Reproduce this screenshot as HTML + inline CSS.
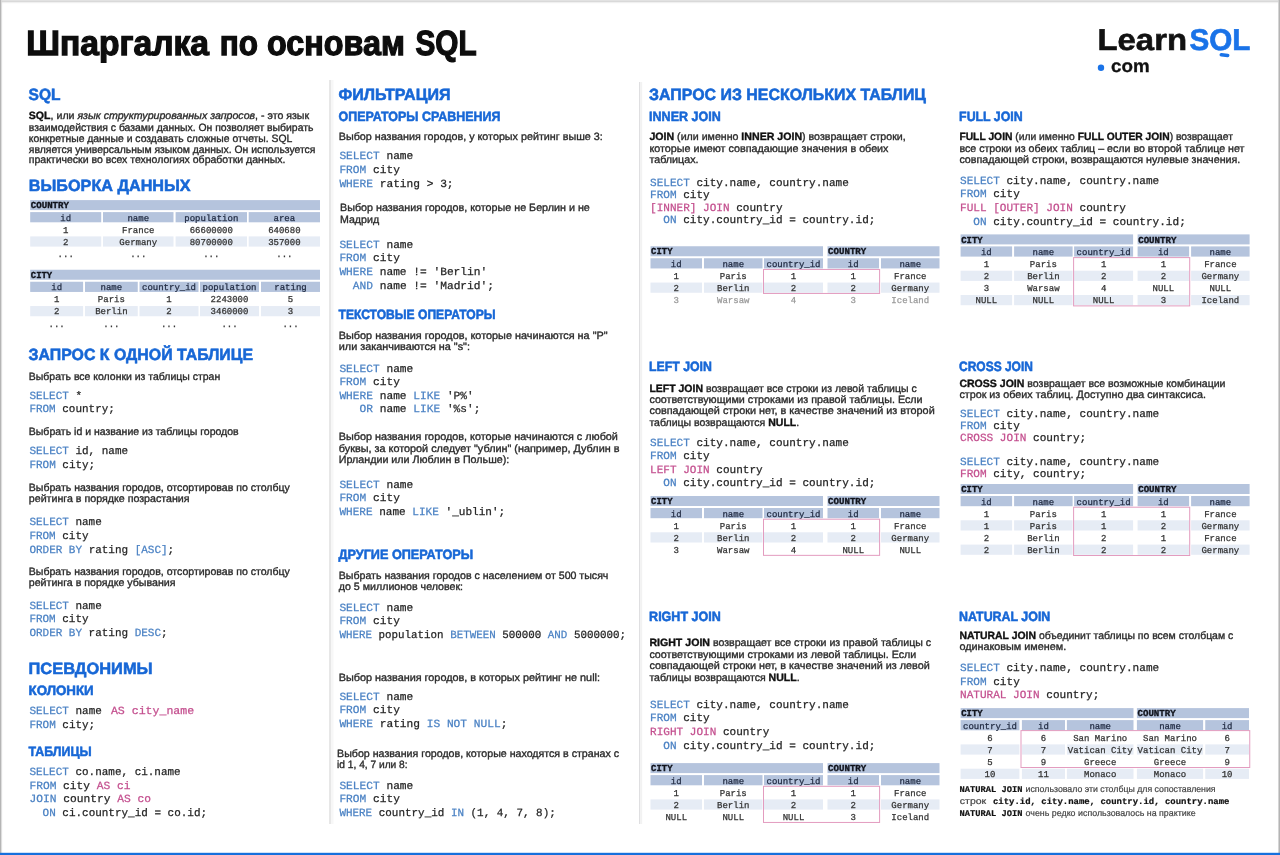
<!DOCTYPE html>
<html><head><meta charset="utf-8"><title>SQL cheat sheet</title>
<style>html,body{margin:0;padding:0;background:#fff;}svg{display:block;filter:blur(0.35px);}</style></head>
<body><svg width="1280" height="855" viewBox="0 0 1280 855" text-rendering="geometricPrecision">
<rect x="0" y="0" width="1280" height="855" fill="#ffffff"/>
<rect x="0" y="0" width="1280" height="1" fill="#e2e2e2"/>
<rect x="0" y="1" width="1280" height="1.3" fill="#d9d9d9"/>
<rect x="0" y="2.3" width="1280" height="0.9" fill="#eeeeee"/>
<rect x="0" y="0" width="1.2" height="855" fill="#b5b5b5"/>
<rect x="1.2" y="0" width="0.9" height="855" fill="#dadada"/>
<rect x="1278" y="0" width="0.8" height="855" fill="#d6d6d6"/>
<rect x="1278.8" y="0" width="1.2" height="855" fill="#b4b4b4"/>
<rect x="0" y="852.8" width="1280" height="2.2" fill="#1670dd"/>
<rect x="329" y="80" width="2" height="744" fill="#e7e7e7"/>
<rect x="331" y="80" width="2.5" height="744" fill="#f7f7f7"/>
<rect x="639" y="82" width="1.2" height="742" fill="#dfdfe1"/>
<rect x="640.2" y="82" width="2" height="742" fill="#f2f2f2"/>
<text x="26.30" y="55" font-family="'Liberation Sans', sans-serif" font-weight="bold" font-size="35" fill="#0d0d0d" stroke="#0d0d0d" stroke-width="1.3" textLength="182.7" lengthAdjust="spacingAndGlyphs">Шпаргалка</text>
<text x="219.80" y="55" font-family="'Liberation Sans', sans-serif" font-weight="bold" font-size="35" fill="#0d0d0d" stroke="#0d0d0d" stroke-width="1.3" textLength="38.2" lengthAdjust="spacingAndGlyphs">по</text>
<text x="267.00" y="55" font-family="'Liberation Sans', sans-serif" font-weight="bold" font-size="35" fill="#0d0d0d" stroke="#0d0d0d" stroke-width="1.3" textLength="137.8" lengthAdjust="spacingAndGlyphs">основам</text>
<text x="415.50" y="55" font-family="'Liberation Sans', sans-serif" font-weight="bold" font-size="35" fill="#0d0d0d" stroke="#0d0d0d" stroke-width="1.3" textLength="61.1" lengthAdjust="spacingAndGlyphs">SQL</text>
<text x="1097.5" y="50" font-family="'Liberation Sans', sans-serif" font-weight="bold" font-size="30" fill="#111" stroke="#111" stroke-width="0.6" textLength="89.5" lengthAdjust="spacingAndGlyphs">Learn</text>
<text x="1189.5" y="50" font-family="'Liberation Sans', sans-serif" font-weight="bold" font-size="30" fill="#1a73e8" stroke="#1a73e8" stroke-width="0.6" textLength="61" lengthAdjust="spacingAndGlyphs">SOL</text>
<rect x="1219.5" y="53.3" width="10" height="3.6" rx="1.8" fill="#1a73e8" transform="rotate(6 1224.5 55)"/>
<circle cx="1101" cy="67.8" r="3.2" fill="#1a73e8"/>
<text x="1111" y="72" font-family="'Liberation Sans', sans-serif" font-weight="bold" font-size="18" fill="#111" stroke="#111" stroke-width="0.3" textLength="38.6" lengthAdjust="spacingAndGlyphs">com</text>
<text x="28.50" y="100" font-family="'Liberation Sans', sans-serif" font-weight="bold" font-size="16.3" fill="#1767d6" stroke="#1767d6" stroke-width="0.55" textLength="32.0" lengthAdjust="spacingAndGlyphs">SQL</text>
<text x="28.8" y="119.4" font-family="'Liberation Sans', sans-serif" font-size="10.6" fill="#2b2b2b" stroke="#2b2b2b" stroke-width="0.35" textLength="280.3" lengthAdjust="spacingAndGlyphs"><tspan font-weight="bold" fill="#111111" stroke="#111111">SQL</tspan><tspan>, или </tspan><tspan font-style="italic">язык структурированных запросов</tspan><tspan>, - это язык</tspan></text>
<text x="28.8" y="130.6" font-family="'Liberation Sans', sans-serif" font-size="10.6" fill="#2b2b2b" stroke="#2b2b2b" stroke-width="0.35" textLength="284.6" lengthAdjust="spacingAndGlyphs"><tspan>взаимодействия с базами данных. Он позволяет выбирать</tspan></text>
<text x="28.8" y="141.6" font-family="'Liberation Sans', sans-serif" font-size="10.6" fill="#2b2b2b" stroke="#2b2b2b" stroke-width="0.35" textLength="263.5" lengthAdjust="spacingAndGlyphs"><tspan>конкретные данные и создавать сложные отчеты. SQL</tspan></text>
<text x="28.8" y="152.5" font-family="'Liberation Sans', sans-serif" font-size="10.6" fill="#2b2b2b" stroke="#2b2b2b" stroke-width="0.35" textLength="286.6" lengthAdjust="spacingAndGlyphs"><tspan>является универсальным языком данных. Он используется</tspan></text>
<text x="28.8" y="163.1" font-family="'Liberation Sans', sans-serif" font-size="10.6" fill="#2b2b2b" stroke="#2b2b2b" stroke-width="0.35" textLength="256.6" lengthAdjust="spacingAndGlyphs"><tspan>практически во всех технологиях обработки данных.</tspan></text>
<text x="28.85" y="190.6" font-family="'Liberation Sans', sans-serif" font-weight="bold" font-size="16.3" fill="#1767d6" stroke="#1767d6" stroke-width="0.55" textLength="161.8" lengthAdjust="spacingAndGlyphs">ВЫБОРКА ДАННЫХ</text>
<rect x="30.20" y="200.10" width="289.80" height="10" fill="#b5c4dd"/>
<text x="30.80" y="208.30" font-family="'Liberation Mono', monospace" font-weight="bold" font-size="9.2" fill="#10131c" stroke="#10131c" stroke-width="0.35" textLength="38.2" lengthAdjust="spacingAndGlyphs">COUNTRY</text>
<rect x="30.20" y="212.10" width="71.00" height="10.2" fill="#b5c4dd"/>
<text x="65.70" y="220.60" font-family="'Liberation Mono', monospace" font-size="9" fill="#1f2940" stroke="#1f2940" stroke-width="0.25" text-anchor="middle">id</text>
<rect x="103.00" y="212.10" width="70.50" height="10.2" fill="#b5c4dd"/>
<text x="138.25" y="220.60" font-family="'Liberation Mono', monospace" font-size="9" fill="#1f2940" stroke="#1f2940" stroke-width="0.25" text-anchor="middle">name</text>
<rect x="175.60" y="212.10" width="71.40" height="10.2" fill="#b5c4dd"/>
<text x="211.30" y="220.60" font-family="'Liberation Mono', monospace" font-size="9" fill="#1f2940" stroke="#1f2940" stroke-width="0.25" text-anchor="middle">population</text>
<rect x="248.70" y="212.10" width="71.30" height="10.2" fill="#b5c4dd"/>
<text x="284.35" y="220.60" font-family="'Liberation Mono', monospace" font-size="9" fill="#1f2940" stroke="#1f2940" stroke-width="0.25" text-anchor="middle">area</text>
<text x="65.70" y="232.65" font-family="'Liberation Mono', monospace" font-size="9" fill="#333333" stroke="#333333" stroke-width="0.25" text-anchor="middle">1</text>
<text x="138.25" y="232.65" font-family="'Liberation Mono', monospace" font-size="9" fill="#333333" stroke="#333333" stroke-width="0.25" text-anchor="middle">France</text>
<text x="211.30" y="232.65" font-family="'Liberation Mono', monospace" font-size="9" fill="#333333" stroke="#333333" stroke-width="0.25" text-anchor="middle">66600000</text>
<text x="284.35" y="232.65" font-family="'Liberation Mono', monospace" font-size="9" fill="#333333" stroke="#333333" stroke-width="0.25" text-anchor="middle">640680</text>
<rect x="30.20" y="236.40" width="71.00" height="10.2" fill="#e6ecf5"/>
<rect x="103.00" y="236.40" width="70.50" height="10.2" fill="#e6ecf5"/>
<rect x="175.60" y="236.40" width="71.40" height="10.2" fill="#e6ecf5"/>
<rect x="248.70" y="236.40" width="71.30" height="10.2" fill="#e6ecf5"/>
<text x="65.70" y="244.80" font-family="'Liberation Mono', monospace" font-size="9" fill="#333333" stroke="#333333" stroke-width="0.25" text-anchor="middle">2</text>
<text x="138.25" y="244.80" font-family="'Liberation Mono', monospace" font-size="9" fill="#333333" stroke="#333333" stroke-width="0.25" text-anchor="middle">Germany</text>
<text x="211.30" y="244.80" font-family="'Liberation Mono', monospace" font-size="9" fill="#333333" stroke="#333333" stroke-width="0.25" text-anchor="middle">80700000</text>
<text x="284.35" y="244.80" font-family="'Liberation Mono', monospace" font-size="9" fill="#333333" stroke="#333333" stroke-width="0.25" text-anchor="middle">357000</text>
<text x="65.70" y="256.95" font-family="'Liberation Mono', monospace" font-size="9" fill="#333333" stroke="#333333" stroke-width="0.25" text-anchor="middle">...</text>
<text x="138.25" y="256.95" font-family="'Liberation Mono', monospace" font-size="9" fill="#333333" stroke="#333333" stroke-width="0.25" text-anchor="middle">...</text>
<text x="211.30" y="256.95" font-family="'Liberation Mono', monospace" font-size="9" fill="#333333" stroke="#333333" stroke-width="0.25" text-anchor="middle">...</text>
<text x="284.35" y="256.95" font-family="'Liberation Mono', monospace" font-size="9" fill="#333333" stroke="#333333" stroke-width="0.25" text-anchor="middle">...</text>
<rect x="30.20" y="269.75" width="289.80" height="10" fill="#b5c4dd"/>
<text x="30.80" y="277.95" font-family="'Liberation Mono', monospace" font-weight="bold" font-size="9.2" fill="#10131c" stroke="#10131c" stroke-width="0.35" textLength="21.4" lengthAdjust="spacingAndGlyphs">CITY</text>
<rect x="30.20" y="281.75" width="52.90" height="10.2" fill="#b5c4dd"/>
<text x="56.65" y="290.25" font-family="'Liberation Mono', monospace" font-size="9" fill="#1f2940" stroke="#1f2940" stroke-width="0.25" text-anchor="middle">id</text>
<rect x="85.00" y="281.75" width="52.75" height="10.2" fill="#b5c4dd"/>
<text x="111.38" y="290.25" font-family="'Liberation Mono', monospace" font-size="9" fill="#1f2940" stroke="#1f2940" stroke-width="0.25" text-anchor="middle">name</text>
<rect x="139.50" y="281.75" width="59.00" height="10.2" fill="#b5c4dd"/>
<text x="169.00" y="290.25" font-family="'Liberation Mono', monospace" font-size="9" fill="#1f2940" stroke="#1f2940" stroke-width="0.25" text-anchor="middle">country_id</text>
<rect x="200.00" y="281.75" width="59.00" height="10.2" fill="#b5c4dd"/>
<text x="229.50" y="290.25" font-family="'Liberation Mono', monospace" font-size="9" fill="#1f2940" stroke="#1f2940" stroke-width="0.25" text-anchor="middle">population</text>
<rect x="261.00" y="281.75" width="59.00" height="10.2" fill="#b5c4dd"/>
<text x="290.50" y="290.25" font-family="'Liberation Mono', monospace" font-size="9" fill="#1f2940" stroke="#1f2940" stroke-width="0.25" text-anchor="middle">rating</text>
<text x="56.65" y="302.30" font-family="'Liberation Mono', monospace" font-size="9" fill="#333333" stroke="#333333" stroke-width="0.25" text-anchor="middle">1</text>
<text x="111.38" y="302.30" font-family="'Liberation Mono', monospace" font-size="9" fill="#333333" stroke="#333333" stroke-width="0.25" text-anchor="middle">Paris</text>
<text x="169.00" y="302.30" font-family="'Liberation Mono', monospace" font-size="9" fill="#333333" stroke="#333333" stroke-width="0.25" text-anchor="middle">1</text>
<text x="229.50" y="302.30" font-family="'Liberation Mono', monospace" font-size="9" fill="#333333" stroke="#333333" stroke-width="0.25" text-anchor="middle">2243000</text>
<text x="290.50" y="302.30" font-family="'Liberation Mono', monospace" font-size="9" fill="#333333" stroke="#333333" stroke-width="0.25" text-anchor="middle">5</text>
<rect x="30.20" y="306.05" width="52.90" height="10.2" fill="#e6ecf5"/>
<rect x="85.00" y="306.05" width="52.75" height="10.2" fill="#e6ecf5"/>
<rect x="139.50" y="306.05" width="59.00" height="10.2" fill="#e6ecf5"/>
<rect x="200.00" y="306.05" width="59.00" height="10.2" fill="#e6ecf5"/>
<rect x="261.00" y="306.05" width="59.00" height="10.2" fill="#e6ecf5"/>
<text x="56.65" y="314.45" font-family="'Liberation Mono', monospace" font-size="9" fill="#333333" stroke="#333333" stroke-width="0.25" text-anchor="middle">2</text>
<text x="111.38" y="314.45" font-family="'Liberation Mono', monospace" font-size="9" fill="#333333" stroke="#333333" stroke-width="0.25" text-anchor="middle">Berlin</text>
<text x="169.00" y="314.45" font-family="'Liberation Mono', monospace" font-size="9" fill="#333333" stroke="#333333" stroke-width="0.25" text-anchor="middle">2</text>
<text x="229.50" y="314.45" font-family="'Liberation Mono', monospace" font-size="9" fill="#333333" stroke="#333333" stroke-width="0.25" text-anchor="middle">3460000</text>
<text x="290.50" y="314.45" font-family="'Liberation Mono', monospace" font-size="9" fill="#333333" stroke="#333333" stroke-width="0.25" text-anchor="middle">3</text>
<text x="56.65" y="326.60" font-family="'Liberation Mono', monospace" font-size="9" fill="#333333" stroke="#333333" stroke-width="0.25" text-anchor="middle">...</text>
<text x="111.38" y="326.60" font-family="'Liberation Mono', monospace" font-size="9" fill="#333333" stroke="#333333" stroke-width="0.25" text-anchor="middle">...</text>
<text x="169.00" y="326.60" font-family="'Liberation Mono', monospace" font-size="9" fill="#333333" stroke="#333333" stroke-width="0.25" text-anchor="middle">...</text>
<text x="229.50" y="326.60" font-family="'Liberation Mono', monospace" font-size="9" fill="#333333" stroke="#333333" stroke-width="0.25" text-anchor="middle">...</text>
<text x="290.50" y="326.60" font-family="'Liberation Mono', monospace" font-size="9" fill="#333333" stroke="#333333" stroke-width="0.25" text-anchor="middle">...</text>
<text x="28.50" y="360" font-family="'Liberation Sans', sans-serif" font-weight="bold" font-size="16.3" fill="#1767d6" stroke="#1767d6" stroke-width="0.55" textLength="224.5" lengthAdjust="spacingAndGlyphs">ЗАПРОС К ОДНОЙ ТАБЛИЦЕ</text>
<text x="28.8" y="379.6" font-family="'Liberation Sans', sans-serif" font-size="10.6" fill="#2b2b2b" stroke="#2b2b2b" stroke-width="0.35" textLength="191.4" lengthAdjust="spacingAndGlyphs"><tspan>Выбрать все колонки из таблицы стран</tspan></text>
<text x="29.40" y="398.5" font-family="'Liberation Mono', monospace" font-size="11" stroke-width="0.25" xml:space="preserve" textLength="52.6" lengthAdjust="spacingAndGlyphs"><tspan fill="#4b82c4" stroke="#4b82c4">SELECT</tspan><tspan fill="#262626" stroke="#262626"> *</tspan></text>
<text x="29.40" y="412.25" font-family="'Liberation Mono', monospace" font-size="11" stroke-width="0.25" xml:space="preserve" textLength="85.5" lengthAdjust="spacingAndGlyphs"><tspan fill="#4b82c4" stroke="#4b82c4">FROM</tspan><tspan fill="#262626" stroke="#262626"> country;</tspan></text>
<text x="28.8" y="435.4" font-family="'Liberation Sans', sans-serif" font-size="10.6" fill="#2b2b2b" stroke="#2b2b2b" stroke-width="0.35" textLength="209.9" lengthAdjust="spacingAndGlyphs"><tspan>Выбрать id и название из таблицы городов</tspan></text>
<text x="29.40" y="454.4" font-family="'Liberation Mono', monospace" font-size="11" stroke-width="0.25" xml:space="preserve" textLength="98.7" lengthAdjust="spacingAndGlyphs"><tspan fill="#4b82c4" stroke="#4b82c4">SELECT</tspan><tspan fill="#262626" stroke="#262626"> id, name</tspan></text>
<text x="29.40" y="468" font-family="'Liberation Mono', monospace" font-size="11" stroke-width="0.25" xml:space="preserve" textLength="65.8" lengthAdjust="spacingAndGlyphs"><tspan fill="#4b82c4" stroke="#4b82c4">FROM</tspan><tspan fill="#262626" stroke="#262626"> city;</tspan></text>
<text x="28.8" y="490.9" font-family="'Liberation Sans', sans-serif" font-size="10.6" fill="#2b2b2b" stroke="#2b2b2b" stroke-width="0.35" textLength="261.0" lengthAdjust="spacingAndGlyphs"><tspan>Выбрать названия городов, отсортировав по столбцу</tspan></text>
<text x="28.8" y="502.1" font-family="'Liberation Sans', sans-serif" font-size="10.6" fill="#2b2b2b" stroke="#2b2b2b" stroke-width="0.35" textLength="160.8" lengthAdjust="spacingAndGlyphs"><tspan>рейтинга в порядке позрастания</tspan></text>
<text x="29.40" y="525" font-family="'Liberation Mono', monospace" font-size="11" stroke-width="0.25" xml:space="preserve" textLength="72.4" lengthAdjust="spacingAndGlyphs"><tspan fill="#4b82c4" stroke="#4b82c4">SELECT</tspan><tspan fill="#262626" stroke="#262626"> name</tspan></text>
<text x="29.40" y="538.7" font-family="'Liberation Mono', monospace" font-size="11" stroke-width="0.25" xml:space="preserve" textLength="59.2" lengthAdjust="spacingAndGlyphs"><tspan fill="#4b82c4" stroke="#4b82c4">FROM</tspan><tspan fill="#262626" stroke="#262626"> city</tspan></text>
<text x="29.40" y="552.5" font-family="'Liberation Mono', monospace" font-size="11" stroke-width="0.25" xml:space="preserve" textLength="144.8" lengthAdjust="spacingAndGlyphs"><tspan fill="#4b82c4" stroke="#4b82c4">ORDER BY</tspan><tspan fill="#262626" stroke="#262626"> rating </tspan><tspan fill="#4b82c4" stroke="#4b82c4">[ASC]</tspan><tspan fill="#262626" stroke="#262626">;</tspan></text>
<text x="28.8" y="575.2" font-family="'Liberation Sans', sans-serif" font-size="10.6" fill="#2b2b2b" stroke="#2b2b2b" stroke-width="0.35" textLength="261.0" lengthAdjust="spacingAndGlyphs"><tspan>Выбрать названия городов, отсортировав по столбцу</tspan></text>
<text x="28.8" y="586.4" font-family="'Liberation Sans', sans-serif" font-size="10.6" fill="#2b2b2b" stroke="#2b2b2b" stroke-width="0.35" textLength="146.7" lengthAdjust="spacingAndGlyphs"><tspan>рейтинга в порядке убывания</tspan></text>
<text x="29.40" y="608.6" font-family="'Liberation Mono', monospace" font-size="11" stroke-width="0.25" xml:space="preserve" textLength="72.4" lengthAdjust="spacingAndGlyphs"><tspan fill="#4b82c4" stroke="#4b82c4">SELECT</tspan><tspan fill="#262626" stroke="#262626"> name</tspan></text>
<text x="29.40" y="622.4" font-family="'Liberation Mono', monospace" font-size="11" stroke-width="0.25" xml:space="preserve" textLength="59.2" lengthAdjust="spacingAndGlyphs"><tspan fill="#4b82c4" stroke="#4b82c4">FROM</tspan><tspan fill="#262626" stroke="#262626"> city</tspan></text>
<text x="29.40" y="636" font-family="'Liberation Mono', monospace" font-size="11" stroke-width="0.25" xml:space="preserve" textLength="138.2" lengthAdjust="spacingAndGlyphs"><tspan fill="#4b82c4" stroke="#4b82c4">ORDER BY</tspan><tspan fill="#262626" stroke="#262626"> rating </tspan><tspan fill="#4b82c4" stroke="#4b82c4">DESC</tspan><tspan fill="#262626" stroke="#262626">;</tspan></text>
<text x="28.50" y="673.6" font-family="'Liberation Sans', sans-serif" font-weight="bold" font-size="16.3" fill="#1767d6" stroke="#1767d6" stroke-width="0.55" textLength="124.2" lengthAdjust="spacingAndGlyphs">ПСЕВДОНИМЫ</text>
<text x="28.50" y="694.9" font-family="'Liberation Sans', sans-serif" font-weight="bold" font-size="13.5" fill="#1767d6" stroke="#1767d6" stroke-width="0.55" textLength="65.2" lengthAdjust="spacingAndGlyphs">КОЛОНКИ</text>
<text x="29.40" y="714.3" font-family="'Liberation Mono', monospace" font-size="11" stroke-width="0.25" xml:space="preserve" textLength="79.0" lengthAdjust="spacingAndGlyphs"><tspan fill="#4b82c4" stroke="#4b82c4">SELECT</tspan><tspan fill="#262626" stroke="#262626"> name </tspan></text>
<text x="110.90" y="714.3" font-family="'Liberation Mono', monospace" font-size="11" stroke-width="0.25" xml:space="preserve" textLength="83.3" lengthAdjust="spacingAndGlyphs"><tspan fill="#c4508f" stroke="#c4508f">AS city_name</tspan></text>
<text x="29.40" y="727.9" font-family="'Liberation Mono', monospace" font-size="11" stroke-width="0.25" xml:space="preserve" textLength="65.8" lengthAdjust="spacingAndGlyphs"><tspan fill="#4b82c4" stroke="#4b82c4">FROM</tspan><tspan fill="#262626" stroke="#262626"> city;</tspan></text>
<text x="28.50" y="756" font-family="'Liberation Sans', sans-serif" font-weight="bold" font-size="13.5" fill="#1767d6" stroke="#1767d6" stroke-width="0.55" textLength="63.1" lengthAdjust="spacingAndGlyphs">ТАБЛИЦЫ</text>
<text x="29.40" y="775" font-family="'Liberation Mono', monospace" font-size="11" stroke-width="0.25" xml:space="preserve" textLength="151.3" lengthAdjust="spacingAndGlyphs"><tspan fill="#4b82c4" stroke="#4b82c4">SELECT</tspan><tspan fill="#262626" stroke="#262626"> co.name, ci.name</tspan></text>
<text x="29.40" y="788.6" font-family="'Liberation Mono', monospace" font-size="11" stroke-width="0.25" xml:space="preserve" textLength="101.2" lengthAdjust="spacingAndGlyphs"><tspan fill="#4b82c4" stroke="#4b82c4">FROM</tspan><tspan fill="#262626" stroke="#262626"> city </tspan><tspan fill="#c4508f" stroke="#c4508f">AS ci</tspan></text>
<text x="29.40" y="802.2" font-family="'Liberation Mono', monospace" font-size="11" stroke-width="0.25" xml:space="preserve" textLength="121.5" lengthAdjust="spacingAndGlyphs"><tspan fill="#4b82c4" stroke="#4b82c4">JOIN</tspan><tspan fill="#262626" stroke="#262626"> country </tspan><tspan fill="#c4508f" stroke="#c4508f">AS co</tspan></text>
<text x="29.40" y="815.6" font-family="'Liberation Mono', monospace" font-size="11" stroke-width="0.25" xml:space="preserve" textLength="177.7" lengthAdjust="spacingAndGlyphs"><tspan fill="#262626" stroke="#262626">  </tspan><tspan fill="#4b82c4" stroke="#4b82c4">ON</tspan><tspan fill="#262626" stroke="#262626"> ci.country_id = co.id;</tspan></text>
<text x="338.50" y="99.8" font-family="'Liberation Sans', sans-serif" font-weight="bold" font-size="16.3" fill="#1767d6" stroke="#1767d6" stroke-width="0.55" textLength="112.0" lengthAdjust="spacingAndGlyphs">ФИЛЬТРАЦИЯ</text>
<text x="338.50" y="121.25" font-family="'Liberation Sans', sans-serif" font-weight="bold" font-size="13.5" fill="#1767d6" stroke="#1767d6" stroke-width="0.55" textLength="161.9" lengthAdjust="spacingAndGlyphs">ОПЕРАТОРЫ СРАВНЕНИЯ</text>
<text x="338.8" y="140" font-family="'Liberation Sans', sans-serif" font-size="10.6" fill="#2b2b2b" stroke="#2b2b2b" stroke-width="0.35" textLength="263.9" lengthAdjust="spacingAndGlyphs"><tspan>Выбор названия городов, у которых рейтинг выше 3:</tspan></text>
<text x="339.40" y="159.4" font-family="'Liberation Mono', monospace" font-size="11" stroke-width="0.25" xml:space="preserve" textLength="73.9" lengthAdjust="spacingAndGlyphs"><tspan fill="#4b82c4" stroke="#4b82c4">SELECT</tspan><tspan fill="#262626" stroke="#262626"> name</tspan></text>
<text x="339.40" y="172.9" font-family="'Liberation Mono', monospace" font-size="11" stroke-width="0.25" xml:space="preserve" textLength="60.5" lengthAdjust="spacingAndGlyphs"><tspan fill="#4b82c4" stroke="#4b82c4">FROM</tspan><tspan fill="#262626" stroke="#262626"> city</tspan></text>
<text x="339.40" y="186.6" font-family="'Liberation Mono', monospace" font-size="11" stroke-width="0.25" xml:space="preserve" textLength="114.2" lengthAdjust="spacingAndGlyphs"><tspan fill="#4b82c4" stroke="#4b82c4">WHERE</tspan><tspan fill="#262626" stroke="#262626"> rating &gt; 3;</tspan></text>
<text x="340.0" y="211.25" font-family="'Liberation Sans', sans-serif" font-size="10.6" fill="#2b2b2b" stroke="#2b2b2b" stroke-width="0.35" textLength="249.8" lengthAdjust="spacingAndGlyphs"><tspan>Выбор названия городов, которые не Берлин и не</tspan></text>
<text x="340.0" y="222.5" font-family="'Liberation Sans', sans-serif" font-size="10.6" fill="#2b2b2b" stroke="#2b2b2b" stroke-width="0.35" textLength="39.1" lengthAdjust="spacingAndGlyphs"><tspan>Мадрид</tspan></text>
<text x="339.40" y="248.1" font-family="'Liberation Mono', monospace" font-size="11" stroke-width="0.25" xml:space="preserve" textLength="73.9" lengthAdjust="spacingAndGlyphs"><tspan fill="#4b82c4" stroke="#4b82c4">SELECT</tspan><tspan fill="#262626" stroke="#262626"> name</tspan></text>
<text x="339.40" y="261.25" font-family="'Liberation Mono', monospace" font-size="11" stroke-width="0.25" xml:space="preserve" textLength="60.5" lengthAdjust="spacingAndGlyphs"><tspan fill="#4b82c4" stroke="#4b82c4">FROM</tspan><tspan fill="#262626" stroke="#262626"> city</tspan></text>
<text x="339.40" y="275" font-family="'Liberation Mono', monospace" font-size="11" stroke-width="0.25" xml:space="preserve" textLength="147.8" lengthAdjust="spacingAndGlyphs"><tspan fill="#4b82c4" stroke="#4b82c4">WHERE</tspan><tspan fill="#262626" stroke="#262626"> name != 'Berlin'</tspan></text>
<text x="339.40" y="288.5" font-family="'Liberation Mono', monospace" font-size="11" stroke-width="0.25" xml:space="preserve" textLength="154.6" lengthAdjust="spacingAndGlyphs"><tspan fill="#262626" stroke="#262626">  </tspan><tspan fill="#4b82c4" stroke="#4b82c4">AND</tspan><tspan fill="#262626" stroke="#262626"> name != 'Madrid';</tspan></text>
<text x="338.50" y="318.9" font-family="'Liberation Sans', sans-serif" font-weight="bold" font-size="13.5" fill="#1767d6" stroke="#1767d6" stroke-width="0.55" textLength="157.1" lengthAdjust="spacingAndGlyphs">ТЕКСТОВЫЕ ОПЕРАТОРЫ</text>
<text x="338.8" y="338.6" font-family="'Liberation Sans', sans-serif" font-size="10.6" fill="#2b2b2b" stroke="#2b2b2b" stroke-width="0.35" textLength="268.8" lengthAdjust="spacingAndGlyphs"><tspan>Выбор названия городов, которые начинаются на "P"</tspan></text>
<text x="338.8" y="349.8" font-family="'Liberation Sans', sans-serif" font-size="10.6" fill="#2b2b2b" stroke="#2b2b2b" stroke-width="0.35" textLength="131.2" lengthAdjust="spacingAndGlyphs"><tspan>или заканчиваются на "s":</tspan></text>
<text x="339.40" y="371.6" font-family="'Liberation Mono', monospace" font-size="11" stroke-width="0.25" xml:space="preserve" textLength="73.9" lengthAdjust="spacingAndGlyphs"><tspan fill="#4b82c4" stroke="#4b82c4">SELECT</tspan><tspan fill="#262626" stroke="#262626"> name</tspan></text>
<text x="339.40" y="384.9" font-family="'Liberation Mono', monospace" font-size="11" stroke-width="0.25" xml:space="preserve" textLength="60.5" lengthAdjust="spacingAndGlyphs"><tspan fill="#4b82c4" stroke="#4b82c4">FROM</tspan><tspan fill="#262626" stroke="#262626"> city</tspan></text>
<text x="339.40" y="398.9" font-family="'Liberation Mono', monospace" font-size="11" stroke-width="0.25" xml:space="preserve" textLength="134.4" lengthAdjust="spacingAndGlyphs"><tspan fill="#4b82c4" stroke="#4b82c4">WHERE</tspan><tspan fill="#262626" stroke="#262626"> name </tspan><tspan fill="#4b82c4" stroke="#4b82c4">LIKE</tspan><tspan fill="#262626" stroke="#262626"> 'P%'</tspan></text>
<text x="339.40" y="412.3" font-family="'Liberation Mono', monospace" font-size="11" stroke-width="0.25" xml:space="preserve" textLength="141.1" lengthAdjust="spacingAndGlyphs"><tspan fill="#262626" stroke="#262626">   </tspan><tspan fill="#4b82c4" stroke="#4b82c4">OR</tspan><tspan fill="#262626" stroke="#262626"> name </tspan><tspan fill="#4b82c4" stroke="#4b82c4">LIKE</tspan><tspan fill="#262626" stroke="#262626"> '%s';</tspan></text>
<text x="338.8" y="440.4" font-family="'Liberation Sans', sans-serif" font-size="10.6" fill="#2b2b2b" stroke="#2b2b2b" stroke-width="0.35" textLength="279.1" lengthAdjust="spacingAndGlyphs"><tspan>Выбор названия городов, которые начинаются с любой</tspan></text>
<text x="338.8" y="451.6" font-family="'Liberation Sans', sans-serif" font-size="10.6" fill="#2b2b2b" stroke="#2b2b2b" stroke-width="0.35" textLength="280.7" lengthAdjust="spacingAndGlyphs"><tspan>буквы, за которой следует "ублин" (например, Дублин в</tspan></text>
<text x="338.8" y="462.8" font-family="'Liberation Sans', sans-serif" font-size="10.6" fill="#2b2b2b" stroke="#2b2b2b" stroke-width="0.35" textLength="170.4" lengthAdjust="spacingAndGlyphs"><tspan>Ирландии или Люблин в Польше):</tspan></text>
<text x="339.40" y="488.1" font-family="'Liberation Mono', monospace" font-size="11" stroke-width="0.25" xml:space="preserve" textLength="73.9" lengthAdjust="spacingAndGlyphs"><tspan fill="#4b82c4" stroke="#4b82c4">SELECT</tspan><tspan fill="#262626" stroke="#262626"> name</tspan></text>
<text x="339.40" y="501.4" font-family="'Liberation Mono', monospace" font-size="11" stroke-width="0.25" xml:space="preserve" textLength="60.5" lengthAdjust="spacingAndGlyphs"><tspan fill="#4b82c4" stroke="#4b82c4">FROM</tspan><tspan fill="#262626" stroke="#262626"> city</tspan></text>
<text x="339.40" y="515" font-family="'Liberation Mono', monospace" font-size="11" stroke-width="0.25" xml:space="preserve" textLength="165.8" lengthAdjust="spacingAndGlyphs"><tspan fill="#4b82c4" stroke="#4b82c4">WHERE</tspan><tspan fill="#262626" stroke="#262626"> name </tspan><tspan fill="#4b82c4" stroke="#4b82c4">LIKE</tspan><tspan fill="#262626" stroke="#262626"> '_ublin';</tspan></text>
<text x="338.50" y="559.2" font-family="'Liberation Sans', sans-serif" font-weight="bold" font-size="13.5" fill="#1767d6" stroke="#1767d6" stroke-width="0.55" textLength="134.7" lengthAdjust="spacingAndGlyphs">ДРУГИЕ ОПЕРАТОРЫ</text>
<text x="338.8" y="579" font-family="'Liberation Sans', sans-serif" font-size="10.6" fill="#2b2b2b" stroke="#2b2b2b" stroke-width="0.35" textLength="269.6" lengthAdjust="spacingAndGlyphs"><tspan>Выбрать названия городов с населением от 500 тысяч</tspan></text>
<text x="338.8" y="590.2" font-family="'Liberation Sans', sans-serif" font-size="10.6" fill="#2b2b2b" stroke="#2b2b2b" stroke-width="0.35" textLength="124.2" lengthAdjust="spacingAndGlyphs"><tspan>до 5 миллионов человек:</tspan></text>
<text x="339.40" y="610.9" font-family="'Liberation Mono', monospace" font-size="11" stroke-width="0.25" xml:space="preserve" textLength="73.9" lengthAdjust="spacingAndGlyphs"><tspan fill="#4b82c4" stroke="#4b82c4">SELECT</tspan><tspan fill="#262626" stroke="#262626"> name</tspan></text>
<text x="339.40" y="624.2" font-family="'Liberation Mono', monospace" font-size="11" stroke-width="0.25" xml:space="preserve" textLength="60.5" lengthAdjust="spacingAndGlyphs"><tspan fill="#4b82c4" stroke="#4b82c4">FROM</tspan><tspan fill="#262626" stroke="#262626"> city</tspan></text>
<text x="339.40" y="638" font-family="'Liberation Mono', monospace" font-size="11" stroke-width="0.25" xml:space="preserve" textLength="286.6" lengthAdjust="spacingAndGlyphs"><tspan fill="#4b82c4" stroke="#4b82c4">WHERE</tspan><tspan fill="#262626" stroke="#262626"> population </tspan><tspan fill="#4b82c4" stroke="#4b82c4">BETWEEN</tspan><tspan fill="#262626" stroke="#262626"> 500000 </tspan><tspan fill="#4b82c4" stroke="#4b82c4">AND</tspan><tspan fill="#262626" stroke="#262626"> 5000000;</tspan></text>
<text x="338.8" y="680.8" font-family="'Liberation Sans', sans-serif" font-size="10.6" fill="#2b2b2b" stroke="#2b2b2b" stroke-width="0.35" textLength="261.2" lengthAdjust="spacingAndGlyphs"><tspan>Выбор названия городов, в которых рейтинг не null:</tspan></text>
<text x="339.40" y="699.7" font-family="'Liberation Mono', monospace" font-size="11" stroke-width="0.25" xml:space="preserve" textLength="73.9" lengthAdjust="spacingAndGlyphs"><tspan fill="#4b82c4" stroke="#4b82c4">SELECT</tspan><tspan fill="#262626" stroke="#262626"> name</tspan></text>
<text x="339.40" y="713.3" font-family="'Liberation Mono', monospace" font-size="11" stroke-width="0.25" xml:space="preserve" textLength="60.5" lengthAdjust="spacingAndGlyphs"><tspan fill="#4b82c4" stroke="#4b82c4">FROM</tspan><tspan fill="#262626" stroke="#262626"> city</tspan></text>
<text x="339.40" y="727" font-family="'Liberation Mono', monospace" font-size="11" stroke-width="0.25" xml:space="preserve" textLength="168.0" lengthAdjust="spacingAndGlyphs"><tspan fill="#4b82c4" stroke="#4b82c4">WHERE</tspan><tspan fill="#262626" stroke="#262626"> rating </tspan><tspan fill="#4b82c4" stroke="#4b82c4">IS NOT NULL</tspan><tspan fill="#262626" stroke="#262626">;</tspan></text>
<text x="337.1" y="756.8" font-family="'Liberation Sans', sans-serif" font-size="10.6" fill="#2b2b2b" stroke="#2b2b2b" stroke-width="0.35" textLength="282.0" lengthAdjust="spacingAndGlyphs"><tspan>Выбор названия городов, которые находятся в странах с</tspan></text>
<text x="337.1" y="768.4" font-family="'Liberation Sans', sans-serif" font-size="10.6" fill="#2b2b2b" stroke="#2b2b2b" stroke-width="0.35" textLength="70.5" lengthAdjust="spacingAndGlyphs"><tspan>id 1, 4, 7 или 8:</tspan></text>
<text x="339.40" y="788.75" font-family="'Liberation Mono', monospace" font-size="11" stroke-width="0.25" xml:space="preserve" textLength="73.9" lengthAdjust="spacingAndGlyphs"><tspan fill="#4b82c4" stroke="#4b82c4">SELECT</tspan><tspan fill="#262626" stroke="#262626"> name</tspan></text>
<text x="339.40" y="802.25" font-family="'Liberation Mono', monospace" font-size="11" stroke-width="0.25" xml:space="preserve" textLength="60.5" lengthAdjust="spacingAndGlyphs"><tspan fill="#4b82c4" stroke="#4b82c4">FROM</tspan><tspan fill="#262626" stroke="#262626"> city</tspan></text>
<text x="339.40" y="815.6" font-family="'Liberation Mono', monospace" font-size="11" stroke-width="0.25" xml:space="preserve" textLength="216.4" lengthAdjust="spacingAndGlyphs"><tspan fill="#4b82c4" stroke="#4b82c4">WHERE</tspan><tspan fill="#262626" stroke="#262626"> country_id </tspan><tspan fill="#4b82c4" stroke="#4b82c4">IN</tspan><tspan fill="#262626" stroke="#262626"> (1, 4, 7, 8);</tspan></text>
<text x="649.10" y="100" font-family="'Liberation Sans', sans-serif" font-weight="bold" font-size="16.3" fill="#1767d6" stroke="#1767d6" stroke-width="0.55" textLength="276.9" lengthAdjust="spacingAndGlyphs">ЗАПРОС ИЗ НЕСКОЛЬКИХ ТАБЛИЦ</text>
<text x="649.10" y="121" font-family="'Liberation Sans', sans-serif" font-weight="bold" font-size="13.5" fill="#1767d6" stroke="#1767d6" stroke-width="0.55" textLength="71.6" lengthAdjust="spacingAndGlyphs">INNER JOIN</text>
<text x="649.4" y="139.75" font-family="'Liberation Sans', sans-serif" font-size="10.6" fill="#2b2b2b" stroke="#2b2b2b" stroke-width="0.35" textLength="256.3" lengthAdjust="spacingAndGlyphs"><tspan font-weight="bold" fill="#111111" stroke="#111111">JOIN</tspan><tspan> (или именно </tspan><tspan font-weight="bold" fill="#111111" stroke="#111111">INNER JOIN</tspan><tspan>) возвращает строки,</tspan></text>
<text x="649.4" y="151.5" font-family="'Liberation Sans', sans-serif" font-size="10.6" fill="#2b2b2b" stroke="#2b2b2b" stroke-width="0.35" textLength="239.1" lengthAdjust="spacingAndGlyphs"><tspan>которые имеют совпадающие значения в обеих</tspan></text>
<text x="649.4" y="163.1" font-family="'Liberation Sans', sans-serif" font-size="10.6" fill="#2b2b2b" stroke="#2b2b2b" stroke-width="0.35" textLength="49.1" lengthAdjust="spacingAndGlyphs"><tspan>таблицах.</tspan></text>
<text x="650.00" y="186.25" font-family="'Liberation Mono', monospace" font-size="11" stroke-width="0.25" xml:space="preserve" textLength="198.9" lengthAdjust="spacingAndGlyphs"><tspan fill="#4b82c4" stroke="#4b82c4">SELECT</tspan><tspan fill="#262626" stroke="#262626"> city.name, country.name</tspan></text>
<text x="650.00" y="198.1" font-family="'Liberation Mono', monospace" font-size="11" stroke-width="0.25" xml:space="preserve" textLength="59.7" lengthAdjust="spacingAndGlyphs"><tspan fill="#4b82c4" stroke="#4b82c4">FROM</tspan><tspan fill="#262626" stroke="#262626"> city</tspan></text>
<text x="650.00" y="210.6" font-family="'Liberation Mono', monospace" font-size="11" stroke-width="0.25" xml:space="preserve" textLength="132.6" lengthAdjust="spacingAndGlyphs"><tspan fill="#c4508f" stroke="#c4508f">[INNER] JOIN</tspan><tspan fill="#262626" stroke="#262626"> country</tspan></text>
<text x="650.00" y="222.75" font-family="'Liberation Mono', monospace" font-size="11" stroke-width="0.25" xml:space="preserve" textLength="225.4" lengthAdjust="spacingAndGlyphs"><tspan fill="#262626" stroke="#262626">  </tspan><tspan fill="#4b82c4" stroke="#4b82c4">ON</tspan><tspan fill="#262626" stroke="#262626"> city.country_id = country.id;</tspan></text>
<rect x="650.50" y="246.25" width="172.50" height="10" fill="#b5c4dd"/>
<text x="651.10" y="254.45" font-family="'Liberation Mono', monospace" font-weight="bold" font-size="9.2" fill="#10131c" stroke="#10131c" stroke-width="0.35" textLength="21.4" lengthAdjust="spacingAndGlyphs">CITY</text>
<rect x="827.50" y="246.25" width="112.00" height="10" fill="#b5c4dd"/>
<text x="828.10" y="254.45" font-family="'Liberation Mono', monospace" font-weight="bold" font-size="9.2" fill="#10131c" stroke="#10131c" stroke-width="0.35" textLength="38.2" lengthAdjust="spacingAndGlyphs">COUNTRY</text>
<rect x="650.50" y="258.25" width="51.50" height="10.2" fill="#b5c4dd"/>
<text x="676.25" y="266.75" font-family="'Liberation Mono', monospace" font-size="9" fill="#1f2940" stroke="#1f2940" stroke-width="0.25" text-anchor="middle">id</text>
<rect x="704.00" y="258.25" width="58.50" height="10.2" fill="#b5c4dd"/>
<text x="733.25" y="266.75" font-family="'Liberation Mono', monospace" font-size="9" fill="#1f2940" stroke="#1f2940" stroke-width="0.25" text-anchor="middle">name</text>
<rect x="764.00" y="258.25" width="59.00" height="10.2" fill="#b5c4dd"/>
<text x="793.50" y="266.75" font-family="'Liberation Mono', monospace" font-size="9" fill="#1f2940" stroke="#1f2940" stroke-width="0.25" text-anchor="middle">country_id</text>
<rect x="827.50" y="258.25" width="51.50" height="10.2" fill="#b5c4dd"/>
<text x="853.25" y="266.75" font-family="'Liberation Mono', monospace" font-size="9" fill="#1f2940" stroke="#1f2940" stroke-width="0.25" text-anchor="middle">id</text>
<rect x="881.00" y="258.25" width="58.50" height="10.2" fill="#b5c4dd"/>
<text x="910.25" y="266.75" font-family="'Liberation Mono', monospace" font-size="9" fill="#1f2940" stroke="#1f2940" stroke-width="0.25" text-anchor="middle">name</text>
<text x="676.25" y="278.80" font-family="'Liberation Mono', monospace" font-size="9" fill="#333333" stroke="#333333" stroke-width="0.25" text-anchor="middle">1</text>
<text x="733.25" y="278.80" font-family="'Liberation Mono', monospace" font-size="9" fill="#333333" stroke="#333333" stroke-width="0.25" text-anchor="middle">Paris</text>
<text x="793.50" y="278.80" font-family="'Liberation Mono', monospace" font-size="9" fill="#333333" stroke="#333333" stroke-width="0.25" text-anchor="middle">1</text>
<text x="853.25" y="278.80" font-family="'Liberation Mono', monospace" font-size="9" fill="#333333" stroke="#333333" stroke-width="0.25" text-anchor="middle">1</text>
<text x="910.25" y="278.80" font-family="'Liberation Mono', monospace" font-size="9" fill="#333333" stroke="#333333" stroke-width="0.25" text-anchor="middle">France</text>
<rect x="650.50" y="282.55" width="51.50" height="10.2" fill="#e6ecf5"/>
<rect x="704.00" y="282.55" width="58.50" height="10.2" fill="#e6ecf5"/>
<rect x="764.00" y="282.55" width="59.00" height="10.2" fill="#e6ecf5"/>
<rect x="827.50" y="282.55" width="51.50" height="10.2" fill="#e6ecf5"/>
<rect x="881.00" y="282.55" width="58.50" height="10.2" fill="#e6ecf5"/>
<text x="676.25" y="290.95" font-family="'Liberation Mono', monospace" font-size="9" fill="#333333" stroke="#333333" stroke-width="0.25" text-anchor="middle">2</text>
<text x="733.25" y="290.95" font-family="'Liberation Mono', monospace" font-size="9" fill="#333333" stroke="#333333" stroke-width="0.25" text-anchor="middle">Berlin</text>
<text x="793.50" y="290.95" font-family="'Liberation Mono', monospace" font-size="9" fill="#333333" stroke="#333333" stroke-width="0.25" text-anchor="middle">2</text>
<text x="853.25" y="290.95" font-family="'Liberation Mono', monospace" font-size="9" fill="#333333" stroke="#333333" stroke-width="0.25" text-anchor="middle">2</text>
<text x="910.25" y="290.95" font-family="'Liberation Mono', monospace" font-size="9" fill="#333333" stroke="#333333" stroke-width="0.25" text-anchor="middle">Germany</text>
<text x="676.25" y="303.10" font-family="'Liberation Mono', monospace" font-size="9" fill="#9a9a9a" stroke="#9a9a9a" stroke-width="0.25" text-anchor="middle">3</text>
<text x="733.25" y="303.10" font-family="'Liberation Mono', monospace" font-size="9" fill="#9a9a9a" stroke="#9a9a9a" stroke-width="0.25" text-anchor="middle">Warsaw</text>
<text x="793.50" y="303.10" font-family="'Liberation Mono', monospace" font-size="9" fill="#9a9a9a" stroke="#9a9a9a" stroke-width="0.25" text-anchor="middle">4</text>
<text x="853.25" y="303.10" font-family="'Liberation Mono', monospace" font-size="9" fill="#9a9a9a" stroke="#9a9a9a" stroke-width="0.25" text-anchor="middle">3</text>
<text x="910.25" y="303.10" font-family="'Liberation Mono', monospace" font-size="9" fill="#9a9a9a" stroke="#9a9a9a" stroke-width="0.25" text-anchor="middle">Iceland</text>
<rect x="763.50" y="269.45" width="116.10" height="24.00" fill="none" stroke="#e39cbf" stroke-width="1"/>
<text x="649.10" y="371" font-family="'Liberation Sans', sans-serif" font-weight="bold" font-size="13.5" fill="#1767d6" stroke="#1767d6" stroke-width="0.55" textLength="62.8" lengthAdjust="spacingAndGlyphs">LEFT JOIN</text>
<text x="649.4" y="391.8" font-family="'Liberation Sans', sans-serif" font-size="10.6" fill="#2b2b2b" stroke="#2b2b2b" stroke-width="0.35" textLength="267.3" lengthAdjust="spacingAndGlyphs"><tspan font-weight="bold" fill="#111111" stroke="#111111">LEFT JOIN</tspan><tspan> возвращает все строки из левой таблицы с</tspan></text>
<text x="649.4" y="403.3" font-family="'Liberation Sans', sans-serif" font-size="10.6" fill="#2b2b2b" stroke="#2b2b2b" stroke-width="0.35" textLength="273.2" lengthAdjust="spacingAndGlyphs"><tspan>соответствующими строками из правой таблицы. Если</tspan></text>
<text x="649.4" y="414.3" font-family="'Liberation Sans', sans-serif" font-size="10.6" fill="#2b2b2b" stroke="#2b2b2b" stroke-width="0.35" textLength="285.3" lengthAdjust="spacingAndGlyphs"><tspan>совпадающей строки нет, в качестве значений из второй</tspan></text>
<text x="649.4" y="425.75" font-family="'Liberation Sans', sans-serif" font-size="10.6" fill="#2b2b2b" stroke="#2b2b2b" stroke-width="0.35" textLength="149.8" lengthAdjust="spacingAndGlyphs"><tspan>таблицы возвращаются </tspan><tspan font-weight="bold" fill="#111111" stroke="#111111">NULL</tspan><tspan>.</tspan></text>
<text x="650.00" y="445.6" font-family="'Liberation Mono', monospace" font-size="11" stroke-width="0.25" xml:space="preserve" textLength="198.9" lengthAdjust="spacingAndGlyphs"><tspan fill="#4b82c4" stroke="#4b82c4">SELECT</tspan><tspan fill="#262626" stroke="#262626"> city.name, country.name</tspan></text>
<text x="650.00" y="459" font-family="'Liberation Mono', monospace" font-size="11" stroke-width="0.25" xml:space="preserve" textLength="59.7" lengthAdjust="spacingAndGlyphs"><tspan fill="#4b82c4" stroke="#4b82c4">FROM</tspan><tspan fill="#262626" stroke="#262626"> city</tspan></text>
<text x="650.00" y="472.6" font-family="'Liberation Mono', monospace" font-size="11" stroke-width="0.25" xml:space="preserve" textLength="112.7" lengthAdjust="spacingAndGlyphs"><tspan fill="#c4508f" stroke="#c4508f">LEFT JOIN</tspan><tspan fill="#262626" stroke="#262626"> country</tspan></text>
<text x="650.00" y="486" font-family="'Liberation Mono', monospace" font-size="11" stroke-width="0.25" xml:space="preserve" textLength="225.4" lengthAdjust="spacingAndGlyphs"><tspan fill="#262626" stroke="#262626">  </tspan><tspan fill="#4b82c4" stroke="#4b82c4">ON</tspan><tspan fill="#262626" stroke="#262626"> city.country_id = country.id;</tspan></text>
<rect x="650.50" y="496.00" width="172.50" height="10" fill="#b5c4dd"/>
<text x="651.10" y="504.20" font-family="'Liberation Mono', monospace" font-weight="bold" font-size="9.2" fill="#10131c" stroke="#10131c" stroke-width="0.35" textLength="21.4" lengthAdjust="spacingAndGlyphs">CITY</text>
<rect x="827.50" y="496.00" width="112.00" height="10" fill="#b5c4dd"/>
<text x="828.10" y="504.20" font-family="'Liberation Mono', monospace" font-weight="bold" font-size="9.2" fill="#10131c" stroke="#10131c" stroke-width="0.35" textLength="38.2" lengthAdjust="spacingAndGlyphs">COUNTRY</text>
<rect x="650.50" y="508.00" width="51.50" height="10.2" fill="#b5c4dd"/>
<text x="676.25" y="516.50" font-family="'Liberation Mono', monospace" font-size="9" fill="#1f2940" stroke="#1f2940" stroke-width="0.25" text-anchor="middle">id</text>
<rect x="704.00" y="508.00" width="58.50" height="10.2" fill="#b5c4dd"/>
<text x="733.25" y="516.50" font-family="'Liberation Mono', monospace" font-size="9" fill="#1f2940" stroke="#1f2940" stroke-width="0.25" text-anchor="middle">name</text>
<rect x="764.00" y="508.00" width="59.00" height="10.2" fill="#b5c4dd"/>
<text x="793.50" y="516.50" font-family="'Liberation Mono', monospace" font-size="9" fill="#1f2940" stroke="#1f2940" stroke-width="0.25" text-anchor="middle">country_id</text>
<rect x="827.50" y="508.00" width="51.50" height="10.2" fill="#b5c4dd"/>
<text x="853.25" y="516.50" font-family="'Liberation Mono', monospace" font-size="9" fill="#1f2940" stroke="#1f2940" stroke-width="0.25" text-anchor="middle">id</text>
<rect x="881.00" y="508.00" width="58.50" height="10.2" fill="#b5c4dd"/>
<text x="910.25" y="516.50" font-family="'Liberation Mono', monospace" font-size="9" fill="#1f2940" stroke="#1f2940" stroke-width="0.25" text-anchor="middle">name</text>
<text x="676.25" y="528.55" font-family="'Liberation Mono', monospace" font-size="9" fill="#333333" stroke="#333333" stroke-width="0.25" text-anchor="middle">1</text>
<text x="733.25" y="528.55" font-family="'Liberation Mono', monospace" font-size="9" fill="#333333" stroke="#333333" stroke-width="0.25" text-anchor="middle">Paris</text>
<text x="793.50" y="528.55" font-family="'Liberation Mono', monospace" font-size="9" fill="#333333" stroke="#333333" stroke-width="0.25" text-anchor="middle">1</text>
<text x="853.25" y="528.55" font-family="'Liberation Mono', monospace" font-size="9" fill="#333333" stroke="#333333" stroke-width="0.25" text-anchor="middle">1</text>
<text x="910.25" y="528.55" font-family="'Liberation Mono', monospace" font-size="9" fill="#333333" stroke="#333333" stroke-width="0.25" text-anchor="middle">France</text>
<rect x="650.50" y="532.30" width="51.50" height="10.2" fill="#e6ecf5"/>
<rect x="704.00" y="532.30" width="58.50" height="10.2" fill="#e6ecf5"/>
<rect x="764.00" y="532.30" width="59.00" height="10.2" fill="#e6ecf5"/>
<rect x="827.50" y="532.30" width="51.50" height="10.2" fill="#e6ecf5"/>
<rect x="881.00" y="532.30" width="58.50" height="10.2" fill="#e6ecf5"/>
<text x="676.25" y="540.70" font-family="'Liberation Mono', monospace" font-size="9" fill="#333333" stroke="#333333" stroke-width="0.25" text-anchor="middle">2</text>
<text x="733.25" y="540.70" font-family="'Liberation Mono', monospace" font-size="9" fill="#333333" stroke="#333333" stroke-width="0.25" text-anchor="middle">Berlin</text>
<text x="793.50" y="540.70" font-family="'Liberation Mono', monospace" font-size="9" fill="#333333" stroke="#333333" stroke-width="0.25" text-anchor="middle">2</text>
<text x="853.25" y="540.70" font-family="'Liberation Mono', monospace" font-size="9" fill="#333333" stroke="#333333" stroke-width="0.25" text-anchor="middle">2</text>
<text x="910.25" y="540.70" font-family="'Liberation Mono', monospace" font-size="9" fill="#333333" stroke="#333333" stroke-width="0.25" text-anchor="middle">Germany</text>
<text x="676.25" y="552.85" font-family="'Liberation Mono', monospace" font-size="9" fill="#333333" stroke="#333333" stroke-width="0.25" text-anchor="middle">3</text>
<text x="733.25" y="552.85" font-family="'Liberation Mono', monospace" font-size="9" fill="#333333" stroke="#333333" stroke-width="0.25" text-anchor="middle">Warsaw</text>
<text x="793.50" y="552.85" font-family="'Liberation Mono', monospace" font-size="9" fill="#333333" stroke="#333333" stroke-width="0.25" text-anchor="middle">4</text>
<text x="853.25" y="552.85" font-family="'Liberation Mono', monospace" font-size="9" fill="#333333" stroke="#333333" stroke-width="0.25" text-anchor="middle">NULL</text>
<text x="910.25" y="552.85" font-family="'Liberation Mono', monospace" font-size="9" fill="#333333" stroke="#333333" stroke-width="0.25" text-anchor="middle">NULL</text>
<rect x="763.50" y="519.20" width="116.10" height="36.15" fill="none" stroke="#e39cbf" stroke-width="1"/>
<text x="649.10" y="621" font-family="'Liberation Sans', sans-serif" font-weight="bold" font-size="13.5" fill="#1767d6" stroke="#1767d6" stroke-width="0.55" textLength="71.7" lengthAdjust="spacingAndGlyphs">RIGHT JOIN</text>
<text x="649.4" y="646.4" font-family="'Liberation Sans', sans-serif" font-size="10.6" fill="#2b2b2b" stroke="#2b2b2b" stroke-width="0.35" textLength="281.7" lengthAdjust="spacingAndGlyphs"><tspan font-weight="bold" fill="#111111" stroke="#111111">RIGHT JOIN</tspan><tspan> возвращает все строки из правой таблицы с</tspan></text>
<text x="649.4" y="657.6" font-family="'Liberation Sans', sans-serif" font-size="10.6" fill="#2b2b2b" stroke="#2b2b2b" stroke-width="0.35" textLength="266.9" lengthAdjust="spacingAndGlyphs"><tspan>соответствующими строками из левой таблицы. Если</tspan></text>
<text x="649.4" y="669.2" font-family="'Liberation Sans', sans-serif" font-size="10.6" fill="#2b2b2b" stroke="#2b2b2b" stroke-width="0.35" textLength="280.4" lengthAdjust="spacingAndGlyphs"><tspan>совпадающей строки нет, в качестве значений из левой</tspan></text>
<text x="649.4" y="680.5" font-family="'Liberation Sans', sans-serif" font-size="10.6" fill="#2b2b2b" stroke="#2b2b2b" stroke-width="0.35" textLength="150.3" lengthAdjust="spacingAndGlyphs"><tspan>таблицы возвращаются </tspan><tspan font-weight="bold" fill="#111111" stroke="#111111">NULL</tspan><tspan>.</tspan></text>
<text x="650.00" y="707.6" font-family="'Liberation Mono', monospace" font-size="11" stroke-width="0.25" xml:space="preserve" textLength="198.9" lengthAdjust="spacingAndGlyphs"><tspan fill="#4b82c4" stroke="#4b82c4">SELECT</tspan><tspan fill="#262626" stroke="#262626"> city.name, country.name</tspan></text>
<text x="650.00" y="721.3" font-family="'Liberation Mono', monospace" font-size="11" stroke-width="0.25" xml:space="preserve" textLength="59.7" lengthAdjust="spacingAndGlyphs"><tspan fill="#4b82c4" stroke="#4b82c4">FROM</tspan><tspan fill="#262626" stroke="#262626"> city</tspan></text>
<text x="650.00" y="734.7" font-family="'Liberation Mono', monospace" font-size="11" stroke-width="0.25" xml:space="preserve" textLength="119.3" lengthAdjust="spacingAndGlyphs"><tspan fill="#c4508f" stroke="#c4508f">RIGHT JOIN</tspan><tspan fill="#262626" stroke="#262626"> country</tspan></text>
<text x="650.00" y="748.8" font-family="'Liberation Mono', monospace" font-size="11" stroke-width="0.25" xml:space="preserve" textLength="225.4" lengthAdjust="spacingAndGlyphs"><tspan fill="#262626" stroke="#262626">  </tspan><tspan fill="#4b82c4" stroke="#4b82c4">ON</tspan><tspan fill="#262626" stroke="#262626"> city.country_id = country.id;</tspan></text>
<rect x="650.50" y="763.10" width="172.50" height="10" fill="#b5c4dd"/>
<text x="651.10" y="771.30" font-family="'Liberation Mono', monospace" font-weight="bold" font-size="9.2" fill="#10131c" stroke="#10131c" stroke-width="0.35" textLength="21.4" lengthAdjust="spacingAndGlyphs">CITY</text>
<rect x="827.50" y="763.10" width="112.00" height="10" fill="#b5c4dd"/>
<text x="828.10" y="771.30" font-family="'Liberation Mono', monospace" font-weight="bold" font-size="9.2" fill="#10131c" stroke="#10131c" stroke-width="0.35" textLength="38.2" lengthAdjust="spacingAndGlyphs">COUNTRY</text>
<rect x="650.50" y="775.10" width="51.50" height="10.2" fill="#b5c4dd"/>
<text x="676.25" y="783.60" font-family="'Liberation Mono', monospace" font-size="9" fill="#1f2940" stroke="#1f2940" stroke-width="0.25" text-anchor="middle">id</text>
<rect x="704.00" y="775.10" width="58.50" height="10.2" fill="#b5c4dd"/>
<text x="733.25" y="783.60" font-family="'Liberation Mono', monospace" font-size="9" fill="#1f2940" stroke="#1f2940" stroke-width="0.25" text-anchor="middle">name</text>
<rect x="764.00" y="775.10" width="59.00" height="10.2" fill="#b5c4dd"/>
<text x="793.50" y="783.60" font-family="'Liberation Mono', monospace" font-size="9" fill="#1f2940" stroke="#1f2940" stroke-width="0.25" text-anchor="middle">country_id</text>
<rect x="827.50" y="775.10" width="51.50" height="10.2" fill="#b5c4dd"/>
<text x="853.25" y="783.60" font-family="'Liberation Mono', monospace" font-size="9" fill="#1f2940" stroke="#1f2940" stroke-width="0.25" text-anchor="middle">id</text>
<rect x="881.00" y="775.10" width="58.50" height="10.2" fill="#b5c4dd"/>
<text x="910.25" y="783.60" font-family="'Liberation Mono', monospace" font-size="9" fill="#1f2940" stroke="#1f2940" stroke-width="0.25" text-anchor="middle">name</text>
<text x="676.25" y="795.65" font-family="'Liberation Mono', monospace" font-size="9" fill="#333333" stroke="#333333" stroke-width="0.25" text-anchor="middle">1</text>
<text x="733.25" y="795.65" font-family="'Liberation Mono', monospace" font-size="9" fill="#333333" stroke="#333333" stroke-width="0.25" text-anchor="middle">Paris</text>
<text x="793.50" y="795.65" font-family="'Liberation Mono', monospace" font-size="9" fill="#333333" stroke="#333333" stroke-width="0.25" text-anchor="middle">1</text>
<text x="853.25" y="795.65" font-family="'Liberation Mono', monospace" font-size="9" fill="#333333" stroke="#333333" stroke-width="0.25" text-anchor="middle">1</text>
<text x="910.25" y="795.65" font-family="'Liberation Mono', monospace" font-size="9" fill="#333333" stroke="#333333" stroke-width="0.25" text-anchor="middle">France</text>
<rect x="650.50" y="799.40" width="51.50" height="10.2" fill="#e6ecf5"/>
<rect x="704.00" y="799.40" width="58.50" height="10.2" fill="#e6ecf5"/>
<rect x="764.00" y="799.40" width="59.00" height="10.2" fill="#e6ecf5"/>
<rect x="827.50" y="799.40" width="51.50" height="10.2" fill="#e6ecf5"/>
<rect x="881.00" y="799.40" width="58.50" height="10.2" fill="#e6ecf5"/>
<text x="676.25" y="807.80" font-family="'Liberation Mono', monospace" font-size="9" fill="#333333" stroke="#333333" stroke-width="0.25" text-anchor="middle">2</text>
<text x="733.25" y="807.80" font-family="'Liberation Mono', monospace" font-size="9" fill="#333333" stroke="#333333" stroke-width="0.25" text-anchor="middle">Berlin</text>
<text x="793.50" y="807.80" font-family="'Liberation Mono', monospace" font-size="9" fill="#333333" stroke="#333333" stroke-width="0.25" text-anchor="middle">2</text>
<text x="853.25" y="807.80" font-family="'Liberation Mono', monospace" font-size="9" fill="#333333" stroke="#333333" stroke-width="0.25" text-anchor="middle">2</text>
<text x="910.25" y="807.80" font-family="'Liberation Mono', monospace" font-size="9" fill="#333333" stroke="#333333" stroke-width="0.25" text-anchor="middle">Germany</text>
<text x="676.25" y="819.95" font-family="'Liberation Mono', monospace" font-size="9" fill="#333333" stroke="#333333" stroke-width="0.25" text-anchor="middle">NULL</text>
<text x="733.25" y="819.95" font-family="'Liberation Mono', monospace" font-size="9" fill="#333333" stroke="#333333" stroke-width="0.25" text-anchor="middle">NULL</text>
<text x="793.50" y="819.95" font-family="'Liberation Mono', monospace" font-size="9" fill="#333333" stroke="#333333" stroke-width="0.25" text-anchor="middle">NULL</text>
<text x="853.25" y="819.95" font-family="'Liberation Mono', monospace" font-size="9" fill="#333333" stroke="#333333" stroke-width="0.25" text-anchor="middle">3</text>
<text x="910.25" y="819.95" font-family="'Liberation Mono', monospace" font-size="9" fill="#333333" stroke="#333333" stroke-width="0.25" text-anchor="middle">Iceland</text>
<rect x="763.50" y="786.30" width="116.10" height="36.15" fill="none" stroke="#e39cbf" stroke-width="1"/>
<text x="959.10" y="121.3" font-family="'Liberation Sans', sans-serif" font-weight="bold" font-size="13.5" fill="#1767d6" stroke="#1767d6" stroke-width="0.55" textLength="63.6" lengthAdjust="spacingAndGlyphs">FULL JOIN</text>
<text x="959.4" y="140.1" font-family="'Liberation Sans', sans-serif" font-size="10.6" fill="#2b2b2b" stroke="#2b2b2b" stroke-width="0.35" textLength="273.5" lengthAdjust="spacingAndGlyphs"><tspan font-weight="bold" fill="#111111" stroke="#111111">FULL JOIN</tspan><tspan> (или именно </tspan><tspan font-weight="bold" fill="#111111" stroke="#111111">FULL OUTER JOIN</tspan><tspan>) возвращает</tspan></text>
<text x="959.4" y="151.6" font-family="'Liberation Sans', sans-serif" font-size="10.6" fill="#2b2b2b" stroke="#2b2b2b" stroke-width="0.35" textLength="285.0" lengthAdjust="spacingAndGlyphs"><tspan>все строки из обеих таблиц – если во второй таблице нет</tspan></text>
<text x="959.4" y="163" font-family="'Liberation Sans', sans-serif" font-size="10.6" fill="#2b2b2b" stroke="#2b2b2b" stroke-width="0.35" textLength="280.9" lengthAdjust="spacingAndGlyphs"><tspan>совпадающей строки, возвращаются нулевые значения.</tspan></text>
<text x="960.00" y="183.9" font-family="'Liberation Mono', monospace" font-size="11" stroke-width="0.25" xml:space="preserve" textLength="199.2" lengthAdjust="spacingAndGlyphs"><tspan fill="#4b82c4" stroke="#4b82c4">SELECT</tspan><tspan fill="#262626" stroke="#262626"> city.name, country.name</tspan></text>
<text x="960.00" y="197.4" font-family="'Liberation Mono', monospace" font-size="11" stroke-width="0.25" xml:space="preserve" textLength="59.8" lengthAdjust="spacingAndGlyphs"><tspan fill="#4b82c4" stroke="#4b82c4">FROM</tspan><tspan fill="#262626" stroke="#262626"> city</tspan></text>
<text x="960.00" y="211" font-family="'Liberation Mono', monospace" font-size="11" stroke-width="0.25" xml:space="preserve" textLength="166.0" lengthAdjust="spacingAndGlyphs"><tspan fill="#c4508f" stroke="#c4508f">FULL [OUTER] JOIN</tspan><tspan fill="#262626" stroke="#262626"> country</tspan></text>
<text x="960.00" y="224.8" font-family="'Liberation Mono', monospace" font-size="11" stroke-width="0.25" xml:space="preserve" textLength="225.8" lengthAdjust="spacingAndGlyphs"><tspan fill="#262626" stroke="#262626">  </tspan><tspan fill="#4b82c4" stroke="#4b82c4">ON</tspan><tspan fill="#262626" stroke="#262626"> city.country_id = country.id;</tspan></text>
<rect x="960.60" y="234.40" width="172.50" height="10" fill="#b5c4dd"/>
<text x="961.20" y="242.60" font-family="'Liberation Mono', monospace" font-weight="bold" font-size="9.2" fill="#10131c" stroke="#10131c" stroke-width="0.35" textLength="21.4" lengthAdjust="spacingAndGlyphs">CITY</text>
<rect x="1137.60" y="234.40" width="112.00" height="10" fill="#b5c4dd"/>
<text x="1138.20" y="242.60" font-family="'Liberation Mono', monospace" font-weight="bold" font-size="9.2" fill="#10131c" stroke="#10131c" stroke-width="0.35" textLength="38.2" lengthAdjust="spacingAndGlyphs">COUNTRY</text>
<rect x="960.60" y="246.40" width="51.50" height="10.2" fill="#b5c4dd"/>
<text x="986.35" y="254.90" font-family="'Liberation Mono', monospace" font-size="9" fill="#1f2940" stroke="#1f2940" stroke-width="0.25" text-anchor="middle">id</text>
<rect x="1014.10" y="246.40" width="58.50" height="10.2" fill="#b5c4dd"/>
<text x="1043.35" y="254.90" font-family="'Liberation Mono', monospace" font-size="9" fill="#1f2940" stroke="#1f2940" stroke-width="0.25" text-anchor="middle">name</text>
<rect x="1074.10" y="246.40" width="59.00" height="10.2" fill="#b5c4dd"/>
<text x="1103.60" y="254.90" font-family="'Liberation Mono', monospace" font-size="9" fill="#1f2940" stroke="#1f2940" stroke-width="0.25" text-anchor="middle">country_id</text>
<rect x="1137.60" y="246.40" width="51.50" height="10.2" fill="#b5c4dd"/>
<text x="1163.35" y="254.90" font-family="'Liberation Mono', monospace" font-size="9" fill="#1f2940" stroke="#1f2940" stroke-width="0.25" text-anchor="middle">id</text>
<rect x="1191.10" y="246.40" width="58.50" height="10.2" fill="#b5c4dd"/>
<text x="1220.35" y="254.90" font-family="'Liberation Mono', monospace" font-size="9" fill="#1f2940" stroke="#1f2940" stroke-width="0.25" text-anchor="middle">name</text>
<text x="986.35" y="266.95" font-family="'Liberation Mono', monospace" font-size="9" fill="#333333" stroke="#333333" stroke-width="0.25" text-anchor="middle">1</text>
<text x="1043.35" y="266.95" font-family="'Liberation Mono', monospace" font-size="9" fill="#333333" stroke="#333333" stroke-width="0.25" text-anchor="middle">Paris</text>
<text x="1103.60" y="266.95" font-family="'Liberation Mono', monospace" font-size="9" fill="#333333" stroke="#333333" stroke-width="0.25" text-anchor="middle">1</text>
<text x="1163.35" y="266.95" font-family="'Liberation Mono', monospace" font-size="9" fill="#333333" stroke="#333333" stroke-width="0.25" text-anchor="middle">1</text>
<text x="1220.35" y="266.95" font-family="'Liberation Mono', monospace" font-size="9" fill="#333333" stroke="#333333" stroke-width="0.25" text-anchor="middle">France</text>
<rect x="960.60" y="270.70" width="51.50" height="10.2" fill="#e6ecf5"/>
<rect x="1014.10" y="270.70" width="58.50" height="10.2" fill="#e6ecf5"/>
<rect x="1074.10" y="270.70" width="59.00" height="10.2" fill="#e6ecf5"/>
<rect x="1137.60" y="270.70" width="51.50" height="10.2" fill="#e6ecf5"/>
<rect x="1191.10" y="270.70" width="58.50" height="10.2" fill="#e6ecf5"/>
<text x="986.35" y="279.10" font-family="'Liberation Mono', monospace" font-size="9" fill="#333333" stroke="#333333" stroke-width="0.25" text-anchor="middle">2</text>
<text x="1043.35" y="279.10" font-family="'Liberation Mono', monospace" font-size="9" fill="#333333" stroke="#333333" stroke-width="0.25" text-anchor="middle">Berlin</text>
<text x="1103.60" y="279.10" font-family="'Liberation Mono', monospace" font-size="9" fill="#333333" stroke="#333333" stroke-width="0.25" text-anchor="middle">2</text>
<text x="1163.35" y="279.10" font-family="'Liberation Mono', monospace" font-size="9" fill="#333333" stroke="#333333" stroke-width="0.25" text-anchor="middle">2</text>
<text x="1220.35" y="279.10" font-family="'Liberation Mono', monospace" font-size="9" fill="#333333" stroke="#333333" stroke-width="0.25" text-anchor="middle">Germany</text>
<text x="986.35" y="291.25" font-family="'Liberation Mono', monospace" font-size="9" fill="#333333" stroke="#333333" stroke-width="0.25" text-anchor="middle">3</text>
<text x="1043.35" y="291.25" font-family="'Liberation Mono', monospace" font-size="9" fill="#333333" stroke="#333333" stroke-width="0.25" text-anchor="middle">Warsaw</text>
<text x="1103.60" y="291.25" font-family="'Liberation Mono', monospace" font-size="9" fill="#333333" stroke="#333333" stroke-width="0.25" text-anchor="middle">4</text>
<text x="1163.35" y="291.25" font-family="'Liberation Mono', monospace" font-size="9" fill="#333333" stroke="#333333" stroke-width="0.25" text-anchor="middle">NULL</text>
<text x="1220.35" y="291.25" font-family="'Liberation Mono', monospace" font-size="9" fill="#333333" stroke="#333333" stroke-width="0.25" text-anchor="middle">NULL</text>
<rect x="960.60" y="295.00" width="51.50" height="10.2" fill="#e6ecf5"/>
<rect x="1014.10" y="295.00" width="58.50" height="10.2" fill="#e6ecf5"/>
<rect x="1074.10" y="295.00" width="59.00" height="10.2" fill="#e6ecf5"/>
<rect x="1137.60" y="295.00" width="51.50" height="10.2" fill="#e6ecf5"/>
<rect x="1191.10" y="295.00" width="58.50" height="10.2" fill="#e6ecf5"/>
<text x="986.35" y="303.40" font-family="'Liberation Mono', monospace" font-size="9" fill="#333333" stroke="#333333" stroke-width="0.25" text-anchor="middle">NULL</text>
<text x="1043.35" y="303.40" font-family="'Liberation Mono', monospace" font-size="9" fill="#333333" stroke="#333333" stroke-width="0.25" text-anchor="middle">NULL</text>
<text x="1103.60" y="303.40" font-family="'Liberation Mono', monospace" font-size="9" fill="#333333" stroke="#333333" stroke-width="0.25" text-anchor="middle">NULL</text>
<text x="1163.35" y="303.40" font-family="'Liberation Mono', monospace" font-size="9" fill="#333333" stroke="#333333" stroke-width="0.25" text-anchor="middle">3</text>
<text x="1220.35" y="303.40" font-family="'Liberation Mono', monospace" font-size="9" fill="#333333" stroke="#333333" stroke-width="0.25" text-anchor="middle">Iceland</text>
<rect x="1073.60" y="257.60" width="116.10" height="48.30" fill="none" stroke="#e39cbf" stroke-width="1"/>
<text x="959.10" y="371" font-family="'Liberation Sans', sans-serif" font-weight="bold" font-size="13.5" fill="#1767d6" stroke="#1767d6" stroke-width="0.55" textLength="73.8" lengthAdjust="spacingAndGlyphs">CROSS JOIN</text>
<text x="959.4" y="386.9" font-family="'Liberation Sans', sans-serif" font-size="10.6" fill="#2b2b2b" stroke="#2b2b2b" stroke-width="0.35" textLength="266.1" lengthAdjust="spacingAndGlyphs"><tspan font-weight="bold" fill="#111111" stroke="#111111">CROSS JOIN</tspan><tspan> возвращает все возможные комбинации</tspan></text>
<text x="959.4" y="398.4" font-family="'Liberation Sans', sans-serif" font-size="10.6" fill="#2b2b2b" stroke="#2b2b2b" stroke-width="0.35" textLength="246.5" lengthAdjust="spacingAndGlyphs"><tspan>строк из обеих таблиц. Доступно два синтаксиса.</tspan></text>
<text x="960.00" y="417.2" font-family="'Liberation Mono', monospace" font-size="11" stroke-width="0.25" xml:space="preserve" textLength="199.2" lengthAdjust="spacingAndGlyphs"><tspan fill="#4b82c4" stroke="#4b82c4">SELECT</tspan><tspan fill="#262626" stroke="#262626"> city.name, country.name</tspan></text>
<text x="960.00" y="428.7" font-family="'Liberation Mono', monospace" font-size="11" stroke-width="0.25" xml:space="preserve" textLength="59.8" lengthAdjust="spacingAndGlyphs"><tspan fill="#4b82c4" stroke="#4b82c4">FROM</tspan><tspan fill="#262626" stroke="#262626"> city</tspan></text>
<text x="960.00" y="440.5" font-family="'Liberation Mono', monospace" font-size="11" stroke-width="0.25" xml:space="preserve" textLength="126.2" lengthAdjust="spacingAndGlyphs"><tspan fill="#c4508f" stroke="#c4508f">CROSS JOIN</tspan><tspan fill="#262626" stroke="#262626"> country;</tspan></text>
<text x="960.00" y="465" font-family="'Liberation Mono', monospace" font-size="11" stroke-width="0.25" xml:space="preserve" textLength="199.2" lengthAdjust="spacingAndGlyphs"><tspan fill="#4b82c4" stroke="#4b82c4">SELECT</tspan><tspan fill="#262626" stroke="#262626"> city.name, country.name</tspan></text>
<text x="960.00" y="477" font-family="'Liberation Mono', monospace" font-size="11" stroke-width="0.25" xml:space="preserve" textLength="126.2" lengthAdjust="spacingAndGlyphs"><tspan fill="#c4508f" stroke="#c4508f">FROM</tspan><tspan fill="#262626" stroke="#262626"> city, country;</tspan></text>
<rect x="960.60" y="484.00" width="172.50" height="10" fill="#b5c4dd"/>
<text x="961.20" y="492.20" font-family="'Liberation Mono', monospace" font-weight="bold" font-size="9.2" fill="#10131c" stroke="#10131c" stroke-width="0.35" textLength="21.4" lengthAdjust="spacingAndGlyphs">CITY</text>
<rect x="1137.60" y="484.00" width="112.00" height="10" fill="#b5c4dd"/>
<text x="1138.20" y="492.20" font-family="'Liberation Mono', monospace" font-weight="bold" font-size="9.2" fill="#10131c" stroke="#10131c" stroke-width="0.35" textLength="38.2" lengthAdjust="spacingAndGlyphs">COUNTRY</text>
<rect x="960.60" y="496.00" width="51.50" height="10.2" fill="#b5c4dd"/>
<text x="986.35" y="504.50" font-family="'Liberation Mono', monospace" font-size="9" fill="#1f2940" stroke="#1f2940" stroke-width="0.25" text-anchor="middle">id</text>
<rect x="1014.10" y="496.00" width="58.50" height="10.2" fill="#b5c4dd"/>
<text x="1043.35" y="504.50" font-family="'Liberation Mono', monospace" font-size="9" fill="#1f2940" stroke="#1f2940" stroke-width="0.25" text-anchor="middle">name</text>
<rect x="1074.10" y="496.00" width="59.00" height="10.2" fill="#b5c4dd"/>
<text x="1103.60" y="504.50" font-family="'Liberation Mono', monospace" font-size="9" fill="#1f2940" stroke="#1f2940" stroke-width="0.25" text-anchor="middle">country_id</text>
<rect x="1137.60" y="496.00" width="51.50" height="10.2" fill="#b5c4dd"/>
<text x="1163.35" y="504.50" font-family="'Liberation Mono', monospace" font-size="9" fill="#1f2940" stroke="#1f2940" stroke-width="0.25" text-anchor="middle">id</text>
<rect x="1191.10" y="496.00" width="58.50" height="10.2" fill="#b5c4dd"/>
<text x="1220.35" y="504.50" font-family="'Liberation Mono', monospace" font-size="9" fill="#1f2940" stroke="#1f2940" stroke-width="0.25" text-anchor="middle">name</text>
<text x="986.35" y="516.55" font-family="'Liberation Mono', monospace" font-size="9" fill="#333333" stroke="#333333" stroke-width="0.25" text-anchor="middle">1</text>
<text x="1043.35" y="516.55" font-family="'Liberation Mono', monospace" font-size="9" fill="#333333" stroke="#333333" stroke-width="0.25" text-anchor="middle">Paris</text>
<text x="1103.60" y="516.55" font-family="'Liberation Mono', monospace" font-size="9" fill="#333333" stroke="#333333" stroke-width="0.25" text-anchor="middle">1</text>
<text x="1163.35" y="516.55" font-family="'Liberation Mono', monospace" font-size="9" fill="#333333" stroke="#333333" stroke-width="0.25" text-anchor="middle">1</text>
<text x="1220.35" y="516.55" font-family="'Liberation Mono', monospace" font-size="9" fill="#333333" stroke="#333333" stroke-width="0.25" text-anchor="middle">France</text>
<rect x="960.60" y="520.30" width="51.50" height="10.2" fill="#e6ecf5"/>
<rect x="1014.10" y="520.30" width="58.50" height="10.2" fill="#e6ecf5"/>
<rect x="1074.10" y="520.30" width="59.00" height="10.2" fill="#e6ecf5"/>
<rect x="1137.60" y="520.30" width="51.50" height="10.2" fill="#e6ecf5"/>
<rect x="1191.10" y="520.30" width="58.50" height="10.2" fill="#e6ecf5"/>
<text x="986.35" y="528.70" font-family="'Liberation Mono', monospace" font-size="9" fill="#333333" stroke="#333333" stroke-width="0.25" text-anchor="middle">1</text>
<text x="1043.35" y="528.70" font-family="'Liberation Mono', monospace" font-size="9" fill="#333333" stroke="#333333" stroke-width="0.25" text-anchor="middle">Paris</text>
<text x="1103.60" y="528.70" font-family="'Liberation Mono', monospace" font-size="9" fill="#333333" stroke="#333333" stroke-width="0.25" text-anchor="middle">1</text>
<text x="1163.35" y="528.70" font-family="'Liberation Mono', monospace" font-size="9" fill="#333333" stroke="#333333" stroke-width="0.25" text-anchor="middle">2</text>
<text x="1220.35" y="528.70" font-family="'Liberation Mono', monospace" font-size="9" fill="#333333" stroke="#333333" stroke-width="0.25" text-anchor="middle">Germany</text>
<text x="986.35" y="540.85" font-family="'Liberation Mono', monospace" font-size="9" fill="#333333" stroke="#333333" stroke-width="0.25" text-anchor="middle">2</text>
<text x="1043.35" y="540.85" font-family="'Liberation Mono', monospace" font-size="9" fill="#333333" stroke="#333333" stroke-width="0.25" text-anchor="middle">Berlin</text>
<text x="1103.60" y="540.85" font-family="'Liberation Mono', monospace" font-size="9" fill="#333333" stroke="#333333" stroke-width="0.25" text-anchor="middle">2</text>
<text x="1163.35" y="540.85" font-family="'Liberation Mono', monospace" font-size="9" fill="#333333" stroke="#333333" stroke-width="0.25" text-anchor="middle">1</text>
<text x="1220.35" y="540.85" font-family="'Liberation Mono', monospace" font-size="9" fill="#333333" stroke="#333333" stroke-width="0.25" text-anchor="middle">France</text>
<rect x="960.60" y="544.60" width="51.50" height="10.2" fill="#e6ecf5"/>
<rect x="1014.10" y="544.60" width="58.50" height="10.2" fill="#e6ecf5"/>
<rect x="1074.10" y="544.60" width="59.00" height="10.2" fill="#e6ecf5"/>
<rect x="1137.60" y="544.60" width="51.50" height="10.2" fill="#e6ecf5"/>
<rect x="1191.10" y="544.60" width="58.50" height="10.2" fill="#e6ecf5"/>
<text x="986.35" y="553.00" font-family="'Liberation Mono', monospace" font-size="9" fill="#333333" stroke="#333333" stroke-width="0.25" text-anchor="middle">2</text>
<text x="1043.35" y="553.00" font-family="'Liberation Mono', monospace" font-size="9" fill="#333333" stroke="#333333" stroke-width="0.25" text-anchor="middle">Berlin</text>
<text x="1103.60" y="553.00" font-family="'Liberation Mono', monospace" font-size="9" fill="#333333" stroke="#333333" stroke-width="0.25" text-anchor="middle">2</text>
<text x="1163.35" y="553.00" font-family="'Liberation Mono', monospace" font-size="9" fill="#333333" stroke="#333333" stroke-width="0.25" text-anchor="middle">2</text>
<text x="1220.35" y="553.00" font-family="'Liberation Mono', monospace" font-size="9" fill="#333333" stroke="#333333" stroke-width="0.25" text-anchor="middle">Germany</text>
<rect x="1073.60" y="507.20" width="116.10" height="48.30" fill="none" stroke="#e39cbf" stroke-width="1"/>
<text x="959.10" y="620.8" font-family="'Liberation Sans', sans-serif" font-weight="bold" font-size="13.5" fill="#1767d6" stroke="#1767d6" stroke-width="0.55" textLength="91.2" lengthAdjust="spacingAndGlyphs">NATURAL JOIN</text>
<text x="959.4" y="639" font-family="'Liberation Sans', sans-serif" font-size="10.6" fill="#2b2b2b" stroke="#2b2b2b" stroke-width="0.35" textLength="273.8" lengthAdjust="spacingAndGlyphs"><tspan font-weight="bold" fill="#111111" stroke="#111111">NATURAL JOIN</tspan><tspan> объединит таблицы по всем столбцам с</tspan></text>
<text x="959.4" y="650.2" font-family="'Liberation Sans', sans-serif" font-size="10.6" fill="#2b2b2b" stroke="#2b2b2b" stroke-width="0.35" textLength="106.8" lengthAdjust="spacingAndGlyphs"><tspan>одинаковым именем.</tspan></text>
<text x="960.00" y="670.9" font-family="'Liberation Mono', monospace" font-size="11" stroke-width="0.25" xml:space="preserve" textLength="199.2" lengthAdjust="spacingAndGlyphs"><tspan fill="#4b82c4" stroke="#4b82c4">SELECT</tspan><tspan fill="#262626" stroke="#262626"> city.name, country.name</tspan></text>
<text x="960.00" y="684.5" font-family="'Liberation Mono', monospace" font-size="11" stroke-width="0.25" xml:space="preserve" textLength="59.8" lengthAdjust="spacingAndGlyphs"><tspan fill="#4b82c4" stroke="#4b82c4">FROM</tspan><tspan fill="#262626" stroke="#262626"> city</tspan></text>
<text x="960.00" y="698" font-family="'Liberation Mono', monospace" font-size="11" stroke-width="0.25" xml:space="preserve" textLength="139.4" lengthAdjust="spacingAndGlyphs"><tspan fill="#c4508f" stroke="#c4508f">NATURAL JOIN</tspan><tspan fill="#262626" stroke="#262626"> country;</tspan></text>
<rect x="960.60" y="708.10" width="172.90" height="10" fill="#b5c4dd"/>
<text x="961.20" y="716.30" font-family="'Liberation Mono', monospace" font-weight="bold" font-size="9.2" fill="#10131c" stroke="#10131c" stroke-width="0.35" textLength="21.4" lengthAdjust="spacingAndGlyphs">CITY</text>
<rect x="1136.90" y="708.10" width="112.10" height="10" fill="#b5c4dd"/>
<text x="1137.50" y="716.30" font-family="'Liberation Mono', monospace" font-weight="bold" font-size="9.2" fill="#10131c" stroke="#10131c" stroke-width="0.35" textLength="38.2" lengthAdjust="spacingAndGlyphs">COUNTRY</text>
<rect x="960.60" y="720.10" width="58.80" height="10.2" fill="#b5c4dd"/>
<text x="990.00" y="728.60" font-family="'Liberation Mono', monospace" font-size="9" fill="#1f2940" stroke="#1f2940" stroke-width="0.25" text-anchor="middle">country_id</text>
<rect x="1021.90" y="720.10" width="43.10" height="10.2" fill="#b5c4dd"/>
<text x="1043.45" y="728.60" font-family="'Liberation Mono', monospace" font-size="9" fill="#1f2940" stroke="#1f2940" stroke-width="0.25" text-anchor="middle">id</text>
<rect x="1066.90" y="720.10" width="66.60" height="10.2" fill="#b5c4dd"/>
<text x="1100.20" y="728.60" font-family="'Liberation Mono', monospace" font-size="9" fill="#1f2940" stroke="#1f2940" stroke-width="0.25" text-anchor="middle">name</text>
<rect x="1136.90" y="720.10" width="66.20" height="10.2" fill="#b5c4dd"/>
<text x="1170.00" y="728.60" font-family="'Liberation Mono', monospace" font-size="9" fill="#1f2940" stroke="#1f2940" stroke-width="0.25" text-anchor="middle">name</text>
<rect x="1205.25" y="720.10" width="43.75" height="10.2" fill="#b5c4dd"/>
<text x="1227.12" y="728.60" font-family="'Liberation Mono', monospace" font-size="9" fill="#1f2940" stroke="#1f2940" stroke-width="0.25" text-anchor="middle">id</text>
<text x="990.00" y="740.65" font-family="'Liberation Mono', monospace" font-size="9" fill="#333333" stroke="#333333" stroke-width="0.25" text-anchor="middle">6</text>
<text x="1043.45" y="740.65" font-family="'Liberation Mono', monospace" font-size="9" fill="#333333" stroke="#333333" stroke-width="0.25" text-anchor="middle">6</text>
<text x="1100.20" y="740.65" font-family="'Liberation Mono', monospace" font-size="9" fill="#333333" stroke="#333333" stroke-width="0.25" text-anchor="middle">San Marino</text>
<text x="1170.00" y="740.65" font-family="'Liberation Mono', monospace" font-size="9" fill="#333333" stroke="#333333" stroke-width="0.25" text-anchor="middle">San Marino</text>
<text x="1227.12" y="740.65" font-family="'Liberation Mono', monospace" font-size="9" fill="#333333" stroke="#333333" stroke-width="0.25" text-anchor="middle">6</text>
<rect x="960.60" y="744.40" width="58.80" height="10.2" fill="#e6ecf5"/>
<rect x="1021.90" y="744.40" width="43.10" height="10.2" fill="#e6ecf5"/>
<rect x="1066.90" y="744.40" width="66.60" height="10.2" fill="#e6ecf5"/>
<rect x="1136.90" y="744.40" width="66.20" height="10.2" fill="#e6ecf5"/>
<rect x="1205.25" y="744.40" width="43.75" height="10.2" fill="#e6ecf5"/>
<text x="990.00" y="752.80" font-family="'Liberation Mono', monospace" font-size="9" fill="#333333" stroke="#333333" stroke-width="0.25" text-anchor="middle">7</text>
<text x="1043.45" y="752.80" font-family="'Liberation Mono', monospace" font-size="9" fill="#333333" stroke="#333333" stroke-width="0.25" text-anchor="middle">7</text>
<text x="1100.20" y="752.80" font-family="'Liberation Mono', monospace" font-size="9" fill="#333333" stroke="#333333" stroke-width="0.25" text-anchor="middle">Vatican City</text>
<text x="1170.00" y="752.80" font-family="'Liberation Mono', monospace" font-size="9" fill="#333333" stroke="#333333" stroke-width="0.25" text-anchor="middle">Vatican City</text>
<text x="1227.12" y="752.80" font-family="'Liberation Mono', monospace" font-size="9" fill="#333333" stroke="#333333" stroke-width="0.25" text-anchor="middle">7</text>
<text x="990.00" y="764.95" font-family="'Liberation Mono', monospace" font-size="9" fill="#333333" stroke="#333333" stroke-width="0.25" text-anchor="middle">5</text>
<text x="1043.45" y="764.95" font-family="'Liberation Mono', monospace" font-size="9" fill="#333333" stroke="#333333" stroke-width="0.25" text-anchor="middle">9</text>
<text x="1100.20" y="764.95" font-family="'Liberation Mono', monospace" font-size="9" fill="#333333" stroke="#333333" stroke-width="0.25" text-anchor="middle">Greece</text>
<text x="1170.00" y="764.95" font-family="'Liberation Mono', monospace" font-size="9" fill="#333333" stroke="#333333" stroke-width="0.25" text-anchor="middle">Greece</text>
<text x="1227.12" y="764.95" font-family="'Liberation Mono', monospace" font-size="9" fill="#333333" stroke="#333333" stroke-width="0.25" text-anchor="middle">9</text>
<rect x="960.60" y="768.70" width="58.80" height="10.2" fill="#e6ecf5"/>
<rect x="1021.90" y="768.70" width="43.10" height="10.2" fill="#e6ecf5"/>
<rect x="1066.90" y="768.70" width="66.60" height="10.2" fill="#e6ecf5"/>
<rect x="1136.90" y="768.70" width="66.20" height="10.2" fill="#e6ecf5"/>
<rect x="1205.25" y="768.70" width="43.75" height="10.2" fill="#e6ecf5"/>
<text x="990.00" y="777.10" font-family="'Liberation Mono', monospace" font-size="9" fill="#333333" stroke="#333333" stroke-width="0.25" text-anchor="middle">10</text>
<text x="1043.45" y="777.10" font-family="'Liberation Mono', monospace" font-size="9" fill="#333333" stroke="#333333" stroke-width="0.25" text-anchor="middle">11</text>
<text x="1100.20" y="777.10" font-family="'Liberation Mono', monospace" font-size="9" fill="#333333" stroke="#333333" stroke-width="0.25" text-anchor="middle">Monaco</text>
<text x="1170.00" y="777.10" font-family="'Liberation Mono', monospace" font-size="9" fill="#333333" stroke="#333333" stroke-width="0.25" text-anchor="middle">Monaco</text>
<text x="1227.12" y="777.10" font-family="'Liberation Mono', monospace" font-size="9" fill="#333333" stroke="#333333" stroke-width="0.25" text-anchor="middle">10</text>
<rect x="1021.00" y="730.60" width="228.75" height="36.90" fill="none" stroke="#e39cbf" stroke-width="1"/>
<text x="959.6" y="791.9" font-family="'Liberation Mono', monospace" font-weight="bold" font-size="8.7" fill="#111" stroke="#111" stroke-width="0.2" xml:space="preserve" textLength="62.8" lengthAdjust="spacingAndGlyphs">NATURAL JOIN</text>
<text x="1025.6" y="791.9" font-family="'Liberation Sans', sans-serif" font-size="9" fill="#444" stroke="#444" stroke-width="0.2" xml:space="preserve" textLength="190.0" lengthAdjust="spacingAndGlyphs">использовало эти столбцы для сопоставления</text>
<text x="959.8" y="803.75" font-family="'Liberation Sans', sans-serif" font-size="9" fill="#444" stroke="#444" stroke-width="0.2" xml:space="preserve" textLength="26.4" lengthAdjust="spacingAndGlyphs">строк</text>
<text x="993" y="803.75" font-family="'Liberation Mono', monospace" font-weight="bold" font-size="8.7" fill="#111" stroke="#111" stroke-width="0.2" xml:space="preserve" textLength="236.4" lengthAdjust="spacingAndGlyphs">city.id, city.name, country.id, country.name</text>
<text x="959.6" y="815.6" font-family="'Liberation Mono', monospace" font-weight="bold" font-size="8.7" fill="#111" stroke="#111" stroke-width="0.2" xml:space="preserve" textLength="62.8" lengthAdjust="spacingAndGlyphs">NATURAL JOIN</text>
<text x="1025.6" y="815.6" font-family="'Liberation Sans', sans-serif" font-size="9" fill="#444" stroke="#444" stroke-width="0.2" xml:space="preserve" textLength="170.0" lengthAdjust="spacingAndGlyphs">очень редко использовалось на практике</text>
</svg></body></html>
